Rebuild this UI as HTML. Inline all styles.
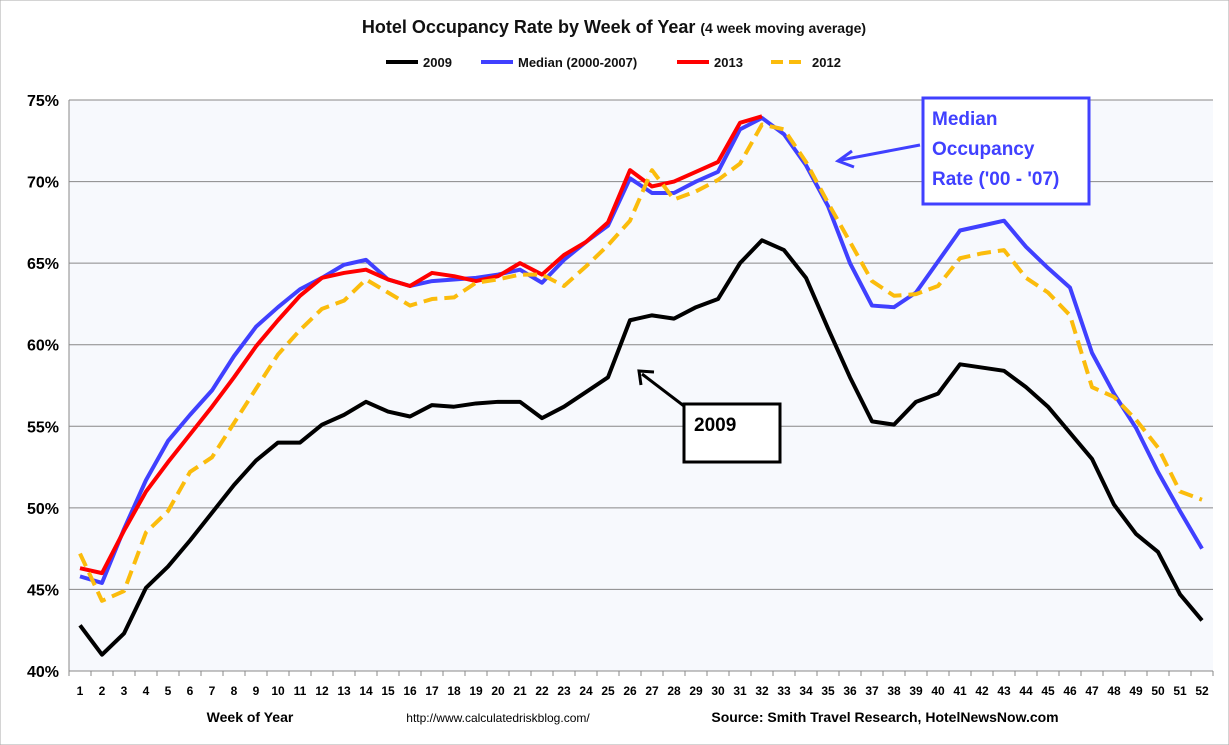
<!DOCTYPE html>
<html><head><meta charset="utf-8"><style>
body{margin:0;background:#fff;font-family:"Liberation Sans",Arial,sans-serif}
svg{display:block}
</style></head><body>
<svg id="chart" width="1229" height="745" xmlns="http://www.w3.org/2000/svg">
<rect x="0" y="0" width="1229" height="745" fill="#fff" stroke="#aaa"/>
<rect x="69" y="100" width="1144" height="571" fill="#f7f9fd"/>
<text x="614" y="33" text-anchor="middle" font-size="18" font-weight="bold" fill="#111">Hotel Occupancy Rate by  Week of Year <tspan font-size="14">(4 week moving average)</tspan></text>
<g id="legend" font-size="13" font-weight="bold" fill="#111">
<g><line x1="386" y1="62" x2="418" y2="62" stroke="#000" stroke-width="4"/><text x="423" y="67">2009</text></g>
<g><line x1="481" y1="62" x2="513" y2="62" stroke="#4040ff" stroke-width="4"/><text x="518" y="67">Median (2000-2007)</text></g>
<g><line x1="677" y1="62" x2="709" y2="62" stroke="#f00" stroke-width="4"/><text x="714" y="67">2013</text></g>
<g><line x1="771" y1="62" x2="805" y2="62" stroke="#fbbc0c" stroke-width="4" stroke-dasharray="12,6"/><text x="812" y="67">2012</text></g>
</g>
<g id="grid"></g><g id="axes"></g><g id="series"></g>
<text x="250" y="722" text-anchor="middle" font-size="14" font-weight="bold">Week of Year</text>
<text x="498" y="722" text-anchor="middle" font-size="12">http://www.calculatedriskblog.com/</text>
<text x="885" y="722" text-anchor="middle" font-size="14" font-weight="bold">Source: Smith Travel Research, HotelNewsNow.com</text>
<g>
<rect x="923" y="98" width="166" height="106" fill="#fff" stroke="#4040ff" stroke-width="3"/>
<text x="932" y="125" font-size="19" font-weight="bold" fill="#4040ff">Median</text>
<text x="932" y="155" font-size="19" font-weight="bold" fill="#4040ff">Occupancy</text>
<text x="932" y="185" font-size="19" font-weight="bold" fill="#4040ff">Rate ('00 - '07)</text>
<line x1="920" y1="145" x2="841" y2="160" stroke="#4040ff" stroke-width="3"/>
<path d="M852 151 L838 161 L854 167" fill="none" stroke="#4040ff" stroke-width="3"/>
</g>
<g>
<rect x="684" y="404" width="96" height="58" fill="#fff" stroke="#000" stroke-width="3"/>
<text x="694" y="431" font-size="19" font-weight="bold">2009</text>
<line x1="684" y1="406" x2="642" y2="374" stroke="#000" stroke-width="3"/>
<path d="M641 385 L639 371 L654 372" fill="none" stroke="#000" stroke-width="3"/>
</g>
</svg>
<script>
const weeks = Array.from({length:52},(_,i)=>i+1);
const yTicks = [40,45,50,55,60,65,70,75];
const s2009 = [42.8,41.0,42.3,45.1,46.4,48.0,49.7,51.4,52.9,54.0,54.0,55.1,55.7,56.5,55.9,55.6,56.3,56.2,56.4,56.5,56.5,55.5,56.2,57.1,58.0,61.5,61.8,61.6,62.3,62.8,65.0,66.4,65.8,64.1,61.0,58.0,55.3,55.1,56.5,57.0,58.8,58.6,58.4,57.4,56.2,54.6,53.0,50.2,48.4,47.3,44.7,43.1];
const sMedian = [45.8,45.4,48.7,51.7,54.1,55.7,57.2,59.3,61.1,62.3,63.4,64.1,64.9,65.2,64.0,63.6,63.9,64.0,64.1,64.3,64.6,63.8,65.2,66.3,67.3,70.2,69.3,69.3,70.0,70.6,73.2,73.9,72.9,71.0,68.5,65.0,62.4,62.3,63.2,65.1,67.0,67.3,67.6,66.0,64.7,63.5,59.5,57.0,54.9,52.2,49.8,47.5];
const s2013 = [46.3,46.0,48.6,51.0,52.8,54.5,56.2,58.0,59.9,61.5,63.0,64.1,64.4,64.6,64.0,63.6,64.4,64.2,63.9,64.2,65.0,64.3,65.5,66.3,67.5,70.7,69.7,70.0,70.6,71.2,73.6,74.0];
const s2012 = [47.2,44.3,44.9,48.5,49.8,52.2,53.1,55.2,57.3,59.4,60.9,62.2,62.7,64.0,63.2,62.4,62.8,62.9,63.8,64.0,64.3,64.3,63.6,64.8,66.1,67.6,70.7,68.9,69.4,70.1,71.1,73.5,73.2,71.2,68.7,66.3,63.9,63.0,63.1,63.6,65.3,65.6,65.8,64.1,63.2,61.8,57.4,56.8,55.4,53.7,51.0,50.5];

const NS="http://www.w3.org/2000/svg";
const L=69,R=1213,T=100,B=671;
const bw=(R-L)/weeks.length;
const xS=w=>L+(w-0.5)*bw;
const yS=v=>B-(v-40)/35*(B-T);
function mk(tag,attrs,parent){const e=document.createElementNS(NS,tag);for(const k in attrs)e.setAttribute(k,attrs[k]);parent.appendChild(e);return e;}
const grid=document.getElementById('grid'),axes=document.getElementById('axes'),ser=document.getElementById('series');
yTicks.forEach(t=>{
  const y=yS(t);
  const gl=mk('line',{x1:L,x2:R,y1:y,y2:y,stroke:'#888','stroke-width':1},grid);
  
  
  const lb=mk('text',{x:L-10,y:y+6,'text-anchor':'end','font-size':16,'font-weight':'bold'},axes);
  lb.textContent=t+'%';
  
  
});
mk('line',{x1:L,x2:L,y1:T,y2:B,stroke:'#888'},axes);
mk('line',{x1:L,x2:R,y1:B,y2:B,stroke:'#888'},axes);
weeks.forEach((w,i)=>{
  const tx=L+i*bw;
  mk('line',{x1:tx,x2:tx,y1:B,y2:B+5,stroke:'#888'},axes);
  const lb=mk('text',{x:xS(w),y:B+24,'text-anchor':'middle','font-size':12,'font-weight':'bold'},axes);
  lb.textContent=w;
  
  
});
mk('line',{x1:R,x2:R,y1:B,y2:B+5,stroke:'#888'},axes);
function line(data,color,name,dash){
  const pts=data.map((v,i)=>xS(weeks[i])+','+yS(v)).join(' ');
  const p=mk('polyline',{points:pts,fill:'none',stroke:color,'stroke-width':4,'stroke-linejoin':'round'},ser);
  if(dash)p.setAttribute('stroke-dasharray',dash);
  
  
}
line(s2009,'#000','series-2009');
line(sMedian,'#4040ff','series-median');
line(s2013,'#f00','series-2013');
line(s2012,'#fbbc0c','series-2012','14,7');
</script>
</body></html>
